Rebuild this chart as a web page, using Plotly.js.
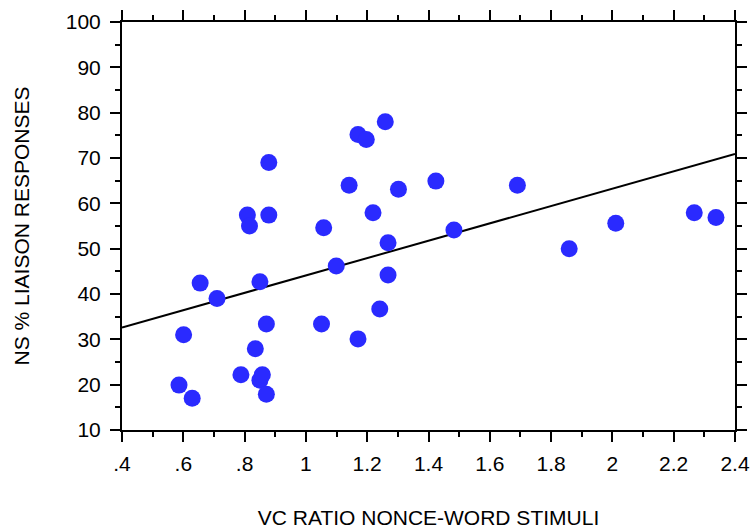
<!DOCTYPE html>
<html>
<head>
<meta charset="utf-8">
<script src="https://cdn.plot.ly/plotly-3.0.1.min.js"></script>
<style>
  html, body { margin: 0; padding: 0; background: #fff; }
  #chart { width: 753px; height: 529px; }
</style>
</head>
<body>
<div id="chart"></div>
<script>
// VC ratio (nonce-word stimuli) vs NS % liaison responses
const vcRatio = [0.586, 0.601, 0.629, 0.655, 0.710, 0.788, 0.809, 0.816, 0.835, 0.850,
                 0.850, 0.858, 0.871, 0.871, 0.879, 0.879, 1.051, 1.058, 1.099, 1.141,
                 1.170, 1.170, 1.197, 1.219, 1.241, 1.259, 1.268, 1.268, 1.302, 1.424,
                 1.483, 1.690, 1.859, 2.011, 2.267, 2.338];
const liaisonPct = [19.9, 31.0, 17.0, 42.4, 39.0, 22.2, 57.4, 55.0, 27.9, 42.7,
                    21.0, 22.2, 33.4, 17.9, 57.4, 69.0, 33.4, 54.6, 46.2, 64.0,
                    75.2, 30.1, 74.1, 57.9, 36.7, 78.0, 51.3, 44.2, 63.1, 64.9,
                    54.1, 64.0, 50.0, 55.6, 57.9, 56.9];

// Regression line endpoints
const fitX = [0.4, 2.4];
const fitY = [32.6, 70.9];

// Tick labels
const xTickVals = [0.4, 0.6, 0.8, 1.0, 1.2, 1.4, 1.6, 1.8, 2.0, 2.2, 2.4];
const xTickText = ['.4', '.6', '.8', '1', '1.2', '1.4', '1.6', '1.8', '2', '2.2', '2.4'];
const yTickVals = [10, 20, 30, 40, 50, 60, 70, 80, 90, 100];
const yTickText = ['10', '20', '30', '40', '50', '60', '70', '80', '90', '100'];

const FONT = '"Liberation Sans", Arial, Helvetica, sans-serif';

const traces = [
  {
    x: fitX, y: fitY, type: 'scatter', mode: 'lines',
    line: { color: '#000000', width: 2 },
    hoverinfo: 'skip', showlegend: false
  },
  {
    x: vcRatio, y: liaisonPct, type: 'scatter', mode: 'markers',
    marker: { color: '#2a2aff', size: 17, line: { width: 0 } },
    showlegend: false
  }
];

const axisCommon = {
  showline: true, linecolor: '#000', linewidth: 2,
  mirror: 'ticks', ticks: 'outside', ticklen: 10, tickwidth: 2, tickcolor: '#000',
  showgrid: false, zeroline: false,
  tickfont: { family: FONT, size: 21, color: '#000' }
};

const layout = {
  width: 753, height: 529,
  margin: { l: 122, r: 18, t: 22, b: 99 },
  paper_bgcolor: '#fff', plot_bgcolor: '#fff',
  font: { family: FONT, color: '#000' },
  xaxis: Object.assign({}, axisCommon, {
    range: [0.4, 2.4],
    tickmode: 'array', tickvals: xTickVals, ticktext: xTickText,
    ticklabelstandoff: 4,
    minor: { ticks: 'outside', ticklen: 5, tickwidth: 2, tickcolor: '#000', dtick: 0.1, tick0: 0.4 },
    title: { text: 'VC RATIO NONCE-WORD STIMULI', font: { family: FONT, size: 21, color: '#000' }, standoff: 40 }
  }),
  yaxis: Object.assign({}, axisCommon, {
    range: [10, 100],
    tickmode: 'array', tickvals: yTickVals, ticktext: yTickText,
    ticklabelstandoff: 5,
    minor: { ticks: 'outside', ticklen: 5, tickwidth: 2, tickcolor: '#000', dtick: 5, tick0: 10 },
    title: { text: 'NS % LIAISON RESPONSES', font: { family: FONT, size: 21, color: '#000' }, standoff: 30 }
  })
};

Plotly.newPlot('chart', traces, layout, { displayModeBar: false, staticPlot: true });
</script>
</body>
</html>
